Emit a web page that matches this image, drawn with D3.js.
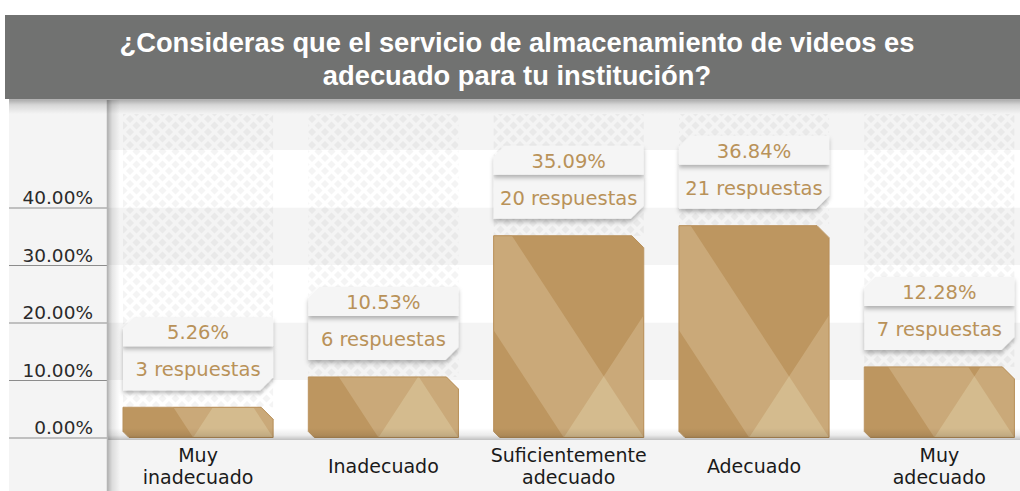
<!DOCTYPE html>
<html><head><meta charset="utf-8">
<script src="https://cdn.jsdelivr.net/npm/d3@7"></script>
<style>html,body{margin:0;padding:0;background:#fff;}svg{display:block;}</style>
</head><body>
<svg id="chart" width="1020" height="491"></svg>
<script>
const categories = ["Muy inadecuado", "Inadecuado", "Suficientemente adecuado", "Adecuado", "Muy adecuado"];
const categoryLines = [["Muy", "inadecuado"], ["Inadecuado"], ["Suficientemente", "adecuado"], ["Adecuado"], ["Muy", "adecuado"]];
const percentages = [5.26, 10.53, 35.09, 36.84, 12.28];
const responses = [3, 6, 20, 21, 7];
const tickValues = [0, 10, 20, 30, 40];
const tickLabels = ["0.00%", "10.00%", "20.00%", "30.00%", "40.00%"];
const titleLines = ["¿Consideras que el servicio de almacenamiento de videos es", "adecuado para tu institución?"];

const W = 1020, H = 491;
const svg = d3.select("#chart");
const defs = svg.append("defs");

const y = d3.scaleLinear().domain([0, 60]).range([437.5, 92.5]);
const x = d3.scaleBand().domain(categories).range([105.4, 1032]).paddingInner(0.19).paddingOuter(0.095);
const data = categories.map((c, i) => ({c, lines: categoryLines[i], p: percentages[i], n: responses[i]}));

// diamond pattern
const pat = defs.append("pattern").attr("id", "diam").attr("patternUnits", "userSpaceOnUse")
  .attr("width", 13).attr("height", 13).attr("x", 0).attr("y", 2);
[[6.5, 6.5], [0, 0], [13, 0], [0, 13], [13, 13]].forEach(([cx, cy]) => {
  pat.append("path").attr("d", `M${cx - 4},${cy}L${cx},${cy - 4}L${cx + 4},${cy}L${cx},${cy + 4}Z`).attr("fill", "rgba(0,0,0,0.042)");
});
// gradients
function grad(id, x1, y1, x2, y2, stops) {
  const g = defs.append("linearGradient").attr("id", id).attr("x1", x1).attr("y1", y1).attr("x2", x2).attr("y2", y2);
  stops.forEach(s => g.append("stop").attr("offset", s[0]).attr("stop-color", "#000").attr("stop-opacity", s[1]));
}
grad("shTop", 0, 0, 0, 1, [[0, 0.32], [0.4, 0.12], [1, 0]]);
grad("shBot", 0, 0, 0, 1, [[0, 0], [0.6, 0.08], [1, 0.25]]);
grad("shLeft", 0, 0, 1, 0, [[0, 0.28], [0.4, 0.1], [1, 0]]);
const f = defs.append("filter").attr("id", "boxsh").attr("x", "-10%").attr("y", "-20%").attr("width", "120%").attr("height", "150%");
f.append("feDropShadow").attr("dx", 0).attr("dy", 3).attr("stdDeviation", 2).attr("flood-color", "#000").attr("flood-opacity", 0.28);

// background
svg.append("rect").attr("x", 9).attr("y", 100).attr("width", 98).attr("height", H - 100).attr("fill", "#f4f4f4");
const bands = d3.range(0, 60, 10);
svg.append("g").selectAll("rect").data(bands).join("rect")
  .attr("x", 107).attr("width", W - 107)
  .attr("y", d => Math.max(100, y(d + 10))).attr("height", d => y(d) - Math.max(100, y(d + 10)))
  .attr("fill", d => (d / 10) % 2 === 1 ? "#f4f4f4" : "#ffffff");

// diamond columns
svg.append("g").selectAll("rect").data(data).join("rect")
  .attr("x", d => x(d.c)).attr("width", x.bandwidth())
  .attr("y", 114).attr("height", d => y(d.p) - 114)
  .attr("fill", "url(#diam)");

// bottom panel
svg.append("rect").attr("x", 9).attr("y", 440).attr("width", W - 9).attr("height", H - 440).attr("fill", "#f4f4f4");

// bars
const bw = x.bandwidth();
const barG = svg.append("g");
data.forEach((d, i) => {
  const x0 = x(d.c), x1 = x0 + bw, yt = y(d.p), yb = y(0);
  const shape = `M${x0},${yt}L${x1 - 12},${yt}L${x1},${yt + Math.min(12, (yb - yt) / 2)}L${x1},${yb}L${x0 + 6},${yb}L${x0},${yb - 6}Z`;
  defs.append("clipPath").attr("id", "bc" + i).append("path").attr("d", shape);
  const g = barG.append("g").attr("clip-path", `url(#bc${i})`);
  g.append("path").attr("d", shape).attr("fill", "#bd9660");
  const s = 1.53;
  const L1b = x0 + 0.467 * bw;
  const big = 400;
  const bandA = `M${L1b},${yb}L${L1b - big / s},${yb - big}L${x1 - big / s},${yb - big}L${x1},${yb}Z`;
  g.append("path").attr("d", bandA).attr("fill", "#caa979");
  const regB = `M${L1b},${yb}L${L1b + big / s},${yb - big}L${x1 + 50},${yb - big}L${x1 + 50},${yb}Z`;
  g.append("path").attr("d", regB).attr("fill", "#caa979");
  const apexX = (L1b + x1) / 2, apexY = yb - (x1 - L1b) / 2 * s;
  g.append("path").attr("d", `M${L1b},${yb}L${apexX},${apexY}L${x1},${yb}Z`).attr("fill", "#d4bb8e");
  barG.append("path").attr("d", shape).attr("fill", "none").attr("stroke", "#b88f58").attr("stroke-width", 1);
});

// bottom shadow
svg.append("rect").attr("x", 107).attr("y", 428).attr("width", W - 107).attr("height", 12).attr("fill", "url(#shBot)");

// label boxes
const boxG = svg.append("g");
data.forEach(d => {
  const x0 = x(d.c), x1 = x0 + bw, top = y(d.p) - 90, bot = y(d.p) - 17, div = top + 29;
  boxG.append("path")
    .attr("d", `M${x0},${div}L${x1},${div}L${x1},${bot - 13}L${x1 - 13},${bot}L${x0},${bot}Z`)
    .attr("fill", "#f5f5f5").attr("filter", "url(#boxsh)");
  boxG.append("path")
    .attr("d", `M${x0 + 11},${top}L${x1},${top}L${x1},${div}L${x0},${div}L${x0},${top + 11}Z`)
    .attr("fill", "#f5f5f5").attr("filter", "url(#boxsh)");
  boxG.append("text").attr("x", x0 + bw / 2).attr("y", top + 22).attr("text-anchor", "middle")
    .attr("font-family", "DejaVu Sans, sans-serif").attr("font-size", 19.5).attr("fill", "#b99259")
    .text(d.p.toFixed(2) + "%");
  boxG.append("text").attr("x", x0 + bw / 2).attr("y", top + 59).attr("text-anchor", "middle")
    .attr("font-family", "DejaVu Sans, sans-serif").attr("font-size", 19.5).attr("fill", "#b99259")
    .text(d.n + " respuestas");
});

// y axis
const yAxis = d3.axisLeft(y).tickValues(tickValues).tickSize(98).tickFormat((d, i) => tickLabels[i]);
const ag = svg.append("g").attr("transform", "translate(107,0)").call(yAxis);
ag.select(".domain").remove();
ag.selectAll(".tick line").attr("stroke", "#8c8c8c").attr("stroke-width", 1.2);
ag.selectAll(".tick text").attr("x", -14).attr("dy", "-0.2em")
  .attr("font-family", "DejaVu Sans, sans-serif").attr("font-size", 18.5).attr("fill", "#2a2a2a");

// vertical separator + shadow
svg.append("rect").attr("x", 107).attr("y", 100).attr("width", 13).attr("height", H - 100).attr("fill", "url(#shLeft)");
svg.append("line").attr("x1", 107.5).attr("x2", 107.5).attr("y1", 100).attr("y2", H).attr("stroke", "#b5b5b5").attr("stroke-width", 1.5);

// category labels
const cg = svg.append("g");
data.forEach(d => {
  const cx = x(d.c) + bw / 2;
  const t = cg.append("text").attr("text-anchor", "middle").attr("font-family", "DejaVu Sans, sans-serif")
    .attr("font-size", 19).attr("fill", "#1a1a1a");
  const y0 = d.lines.length === 1 ? 473 : 462;
  d.lines.forEach((l, k) => t.append("tspan").attr("x", cx).attr("y", y0 + k * 21.5).text(l));
});

// title banner
svg.append("rect").attr("x", 5).attr("y", 15).attr("width", W - 5).attr("height", 84).attr("fill", "#717271");
svg.append("rect").attr("x", 9).attr("y", 99).attr("width", W - 9).attr("height", 15).attr("fill", "url(#shTop)");
const tt = svg.append("text").attr("text-anchor", "middle").attr("font-family", "Liberation Sans, Arial, sans-serif")
  .attr("font-weight", "bold").attr("font-size", 27.3).attr("fill", "#ffffff");
titleLines.forEach((l, k) => tt.append("tspan").attr("x", 517).attr("y", 52 + k * 33).text(l));
</script>
</body></html>
